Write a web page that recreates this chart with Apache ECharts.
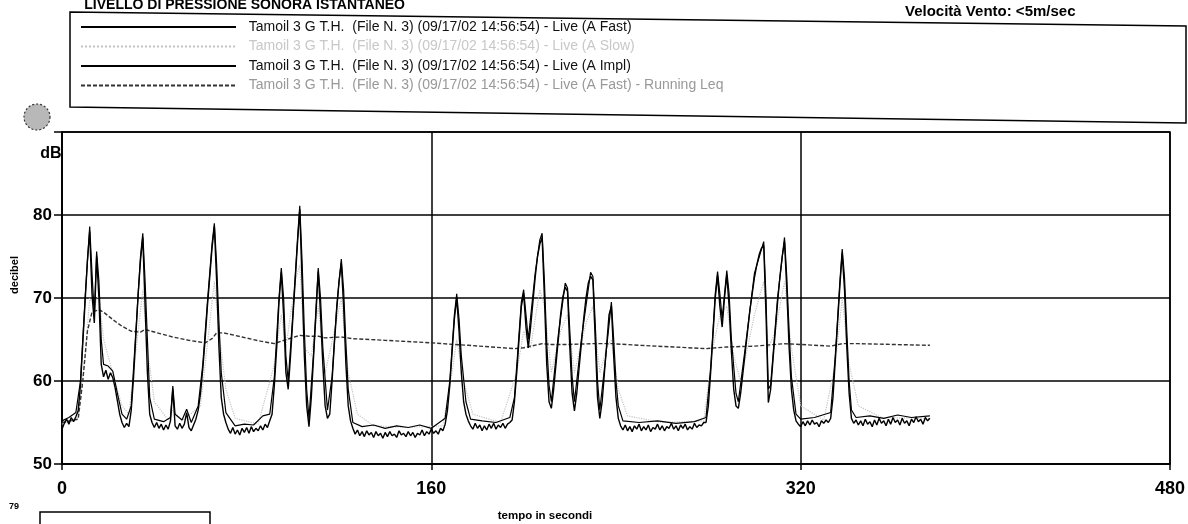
<!DOCTYPE html>
<html>
<head>
<meta charset="utf-8">
<script src="https://cdn.jsdelivr.net/npm/echarts@6/dist/echarts.min.js"></script>
<style>
html,body{margin:0;padding:0;background:#fff;}
#chart{width:1188px;height:524px;}
</style>
</head>
<body>
<div id="chart"></div>
<script>
// ---- data ----
const stepSec = 1; // fast series sampled every second from t = 0
const fastDb = [
  54.2,54.9,55.4,54.8,55.6,55.1,55.7,56.4,
  59.5,64.5,69.5,74.5,78.0,70.5,67.0,75.0,70.0,62.0,60.5,61.3,60.2,61.0,60.4,59.2,57.6,56.0,55.0,54.4,54.9,54.5,
  56.5,60.5,65.5,70.5,74.5,77.3,69.0,61.0,56.0,55.0,
  54.4,55.0,54.3,54.8,54.1,54.7,54.2,55.2,59.0,54.6,54.2,54.9,54.3,54.8,56.2,54.4,54.0,54.7,55.4,56.5,
  58.5,61.5,65.0,69.0,72.5,76.0,78.6,72.0,64.0,58.0,56.0,55.0,
  54.2,53.7,54.4,53.6,54.1,53.5,54.3,53.8,54.4,53.7,54.5,53.9,54.3,54.0,54.6,54.1,54.8,54.4,
  55.2,56.0,59.5,64.0,69.5,73.1,68.0,61.0,59.0,63.0,67.5,72.0,76.5,80.7,72.0,63.0,57.0,54.5,
  58.0,63.0,68.0,73.2,68.0,62.0,57.0,55.5,56.0,60.0,64.5,68.5,72.0,74.2,69.0,62.0,57.0,55.2,
  54.3,53.6,54.1,53.4,53.9,53.3,54.0,53.5,53.8,53.2,53.9,53.4,53.7,53.1,53.8,53.3,53.9,53.4,53.6,53.2,
  54.0,53.5,53.7,53.3,53.9,53.4,53.8,53.2,53.7,53.5,54.1,53.4,53.9,53.6,54.2,53.7,54.0,53.6,54.3,54.0,
  54.8,56.5,59.5,63.5,67.5,70.0,66.0,61.0,57.5,56.0,55.2,54.6,
  54.2,54.9,54.3,54.7,54.0,54.6,54.1,54.8,54.3,54.9,54.2,54.7,54.4,54.9,54.3,54.8,55.0,
  55.3,57.5,61.0,65.0,69.0,70.5,66.5,64.0,66.5,69.5,72.5,75.0,76.5,77.3,70.0,62.0,57.5,56.7,59.0,62.0,
  65.0,68.0,70.2,71.3,70.8,64.0,58.5,56.4,58.5,61.5,64.5,67.5,70.0,71.8,72.6,72.2,65.0,58.0,55.5,57.5,
  61.0,64.5,68.0,69.0,63.0,58.0,55.5,54.6,
  54.1,54.7,54.0,54.5,53.9,54.6,54.2,54.8,54.0,54.5,54.1,54.7,53.9,54.4,54.2,54.8,54.1,54.6,54.0,54.5,
  54.3,54.9,54.2,54.6,54.0,54.7,54.3,54.8,54.1,54.5,54.2,54.9,54.4,54.7,54.6,55.0,
  55.0,57.0,61.0,65.5,70.0,72.7,69.0,66.5,70.0,72.8,69.0,63.5,59.0,57.0,56.7,58.5,61.0,63.5,66.0,68.5,
  70.5,72.5,74.0,75.2,76.0,76.3,68.0,57.4,59.0,62.5,66.0,69.5,72.5,75.0,76.8,71.0,64.0,59.0,56.5,55.2,54.8,
  54.5,55.1,54.6,55.2,54.7,55.3,54.8,55.0,54.5,55.2,54.9,55.3,55.0,
  55.5,58.0,62.5,67.0,71.5,75.4,71.0,64.0,58.5,55.5,54.9,
  55.3,54.7,55.2,54.6,55.4,54.8,55.1,54.5,55.3,54.7,55.5,54.9,55.2,54.6,55.4,54.8,55.6,55.0,55.3,54.7,
  55.5,54.9,55.2,54.6,55.4,55.0,55.7,55.1,55.4,54.8,55.6,55.2,55.5
];
const implPoints = [
  [0,55.2],[3,55.6],[6,56.2],[8,60],[10,70],[12,78.6],[13,73],[14,68],[15,75.6],[16,72],[17,65],[18,62],
  [20,61.8],[22,61.2],[24,58.5],[26,56],[28,55.4],[30,57],[32,66],[34,75],[35,77.8],[36,72],[37,65],[38,58],
  [40,55.4],[44,55.1],[47,55.6],[48,59.4],[49,56],[52,55.3],[54,56.6],[56,55.0],[59,57],[61,62],[63,69.5],
  [65,76.5],[66,79],[67,74],[68,67],[69,61],[71,56.2],[75,54.6],[79,54.8],[83,54.7],[87,55.8],[90,56],
  [92,60.5],[94,70],[95,73.6],[96,70],[97,63],[98,60],[100,68],[102,77],[103,81.1],[104,74.5],[105,66],
  [106,59],[107,55.5],[109,63.5],[111,73.6],[112,70],[113,64],[115,56.5],[117,60.5],[119,69],[121,74.7],
  [122,71],[123,64.5],[124,59],[126,55],[130,54.5],[135,54.7],[140,54.3],[145,54.6],[150,54.4],[155,54.7],
  [160,54.3],[166,55.5],[168,60],[170,68],[171,70.5],[172,67.5],[173,63],[175,57.5],[177,55.4],[182,55.2],
  [188,55.0],[194,55.6],[196,58],[199,69.5],[200,71],[201,68],[202,65],[205,73],[207,77],[208,77.8],
  [209,72],[210,64.5],[211,59.5],[212,57.5],[215,65.5],[218,71.8],[219,71.2],[220,66],[221,60.5],[222,57.5],
  [225,65],[229,73.1],[230,72.6],[231,67],[232,60],[233,56.5],[235,61.5],[238,69.5],[239,65],[240,60],
  [241,57],[243,55.2],[250,55.0],[258,55.2],[266,54.9],[274,55.1],[279,55.6],[281,61.5],[283,70.5],
  [284,73.2],[285,70.5],[286,67.5],[288,73.3],[289,70.5],[290,65],[292,58.5],[293,57.5],[296,64],[300,73],
  [304,76.8],[305,70],[306,59],[307,59.5],[310,70],[313,77.3],[314,72.5],[315,66],[316,60.5],[318,56],
  [320,55.4],[326,55.6],[333,56.2],[335,63],[337,72],[338,75.9],[339,72.5],[340,66],[341,60],[342,56.5],
  [344,55.6],[350,55.8],[356,55.5],[362,55.9],[368,55.6],[376,55.8]
];
const slowPoints = [
  [0,54.8],[7,55.6],[10,63],[12,70],[14,69],[16,70.5],[18,65],[22,61],[26,57],[29,56],[33,66],[35,71],
  [37,64],[40,57.5],[46,55.3],[48,56.5],[52,55.2],[60,57],[64,67],[66,72],[68,66],[71,59],[75,55.5],
  [85,54.8],[92,62],[95,68],[97,64],[101,72],[103,74],[105,64],[108,63],[111,69],[114,61],[118,66],
  [121,70],[124,61],[128,56],[135,54.6],[150,54.4],[165,54.6],[169,61],[171,65],[174,60],[178,56],
  [190,55],[197,61],[200,66],[203,64],[207,71],[209,69],[212,61],[216,66],[219,68],[222,61],[227,67],
  [230,69],[233,61],[236,64],[238,65],[241,59],[245,55.8],[260,55],[278,55.2],[282,64],[285,68],[288,69],
  [291,63],[294,60],[300,68],[304,72],[306,64],[309,66],[313,72],[316,64],[320,57],[330,55.3],[335,62],
  [338,70],[341,62],[345,57],[355,55.6],[376,55.5]
];
const leqPoints = [
  [0,55],[7,55.4],[9,60],[11,66],[13,68.3],[16,68.6],[18,68.3],[22,67.4],[26,66.6],[30,66],[34,65.9],
  [36,66.2],[40,65.9],[48,65.3],[55,64.9],[62,64.6],[65,65.1],[67,65.8],[70,65.8],[78,65.3],[86,64.8],
  [92,64.5],[95,64.8],[103,65.5],[107,65.4],[111,65.4],[114,65.2],[121,65.3],[126,65.1],[140,64.9],
  [160,64.6],[170,64.4],[176,64.3],[186,64.1],[196,63.9],[200,64],[208,64.5],[212,64.4],[219,64.4],
  [230,64.5],[238,64.5],[250,64.3],[265,64.1],[279,63.9],[288,64.1],[300,64.2],[313,64.5],[320,64.4],
  [333,64.2],[338,64.5],[345,64.5],[360,64.4],[376,64.3]
];
const seriesNames = [
  'Tamoil 3 G T.H.  (File N. 3) (09/17/02 14:56:54) - Live (A Fast)',
  'Tamoil 3 G T.H.  (File N. 3) (09/17/02 14:56:54) - Live (A Slow)',
  'Tamoil 3 G T.H.  (File N. 3) (09/17/02 14:56:54) - Live (A Impl)',
  'Tamoil 3 G T.H.  (File N. 3) (09/17/02 14:56:54) - Live (A Fast) - Running Leq'
];
const xMin = 0, xMax = 480, xStep = 160;
const yMin = 50, yMax = 90, yStep = 10;

// ---- chart ----
const FONT = '"Liberation Sans", Arial, sans-serif';
const NOFILL = 'rgba(0,0,0,0)';
const chart = echarts.init(document.getElementById('chart'));
const fastData = fastDb.map((v, i) => [i * stepSec, v]);

chart.setOption({
  animation: false,
  backgroundColor: '#fff',
  grid: { left: 62, right: 18, top: 132, bottom: 60, show: true, borderColor: '#000', borderWidth: 1.5, backgroundColor: 'transparent' },
  legend: {
    orient: 'vertical', left: 75, top: 15,
    itemWidth: 155, itemHeight: 14, itemGap: 5.5,
    selectedMode: false,
    formatter: n => '  ' + n,
    itemStyle: { opacity: 0, color: NOFILL, borderColor: NOFILL },
    textStyle: { fontFamily: FONT, fontSize: 14, color: '#111' },
    data: [
      { name: seriesNames[0] },
      { name: seriesNames[1], textStyle: { color: '#c8c8c8' } },
      { name: seriesNames[2] },
      { name: seriesNames[3], textStyle: { color: '#999' } }
    ]
  },
  xAxis: {
    type: 'value', min: xMin, max: xMax, interval: xStep,
    axisLine: { show: true, lineStyle: { color: '#000', width: 1.5 } },
    axisTick: { show: true, length: 6, lineStyle: { color: '#000', width: 1.5 } },
    splitLine: { show: true, lineStyle: { color: '#000', width: 1.5 } },
    axisLabel: { margin: 16, color: '#000', fontFamily: FONT, fontWeight: 'bold', fontSize: 18 }
  },
  yAxis: {
    type: 'value', min: yMin, max: yMax, interval: yStep,
    axisLine: { show: true, lineStyle: { color: '#000', width: 1.5 } },
    axisTick: { show: true, length: 8, lineStyle: { color: '#000', width: 1.5 } },
    splitLine: { show: true, lineStyle: { color: '#000', width: 1.5 } },
    axisLabel: { margin: 10, color: '#000', fontFamily: FONT, fontWeight: 'bold', fontSize: 17,
      formatter: v => (v === yMax ? '' : String(v)) }
  },
  series: [
    { name: seriesNames[1], type: 'line', symbol: 'none', data: slowPoints, z: 2,
      lineStyle: { color: '#c4c4c4', width: 1.2, type: 'dotted' }, itemStyle: { color: NOFILL } },
    { name: seriesNames[3], type: 'line', symbol: 'none', data: leqPoints, z: 3,
      lineStyle: { color: '#333', width: 1.4, type: [4, 2] }, itemStyle: { color: NOFILL } },
    { name: seriesNames[2], type: 'line', symbol: 'none', data: implPoints, z: 4,
      lineStyle: { color: '#000', width: 1.2 }, itemStyle: { color: NOFILL } },
    { name: seriesNames[0], type: 'line', symbol: 'none', data: fastData, z: 5,
      lineStyle: { color: '#000', width: 1.4 }, itemStyle: { color: NOFILL } }
  ],
  graphic: [
    { type: 'polygon', z: 0, shape: { points: [[70, 12], [1186, 26], [1186, 123], [70, 107]] },
      style: { fill: 'none', stroke: '#000', lineWidth: 1.5 } },
    { type: 'text', x: 405, y: 12,
      style: { text: 'LIVELLO DI PRESSIONE SONORA ISTANTANEO', font: 'bold 14px ' + FONT, fill: '#000',
        textAlign: 'right', align: 'right', textVerticalAlign: 'bottom', verticalAlign: 'bottom' } },
    { type: 'text', x: 905, y: 12,
      style: { text: 'Velocità Vento: <5m/sec', font: 'bold 15px ' + FONT, fill: '#000',
        textAlign: 'left', align: 'left', textVerticalAlign: 'middle', verticalAlign: 'middle' } },
    { type: 'circle', z: 10, shape: { cx: 37, cy: 117, r: 13 },
      style: { fill: '#b8b8b8', stroke: '#333', lineWidth: 1.2, lineDash: [2, 2] } },
    { type: 'text', x: 51, y: 154,
      style: { text: 'dB', font: 'bold 16px ' + FONT, fill: '#000',
        textAlign: 'center', align: 'center', textVerticalAlign: 'middle', verticalAlign: 'middle' } },
    { type: 'text', x: 15, y: 275, rotation: Math.PI / 2,
      style: { text: 'decibel', font: 'bold 11px ' + FONT, fill: '#000',
        textAlign: 'center', align: 'center', textVerticalAlign: 'middle', verticalAlign: 'middle' } },
    { type: 'text', x: 545, y: 516,
      style: { text: 'tempo in secondi', font: 'bold 11.5px ' + FONT, fill: '#000',
        textAlign: 'center', align: 'center', textVerticalAlign: 'middle', verticalAlign: 'middle' } },
    { type: 'text', x: 14, y: 507,
      style: { text: '79', font: 'bold 9px ' + FONT, fill: '#000',
        textAlign: 'center', align: 'center', textVerticalAlign: 'middle', verticalAlign: 'middle' } },
    { type: 'rect', shape: { x: 40, y: 512, width: 170, height: 20 },
      style: { fill: 'none', stroke: '#000', lineWidth: 1.5 } }
  ]
});
</script>
</body>
</html>
